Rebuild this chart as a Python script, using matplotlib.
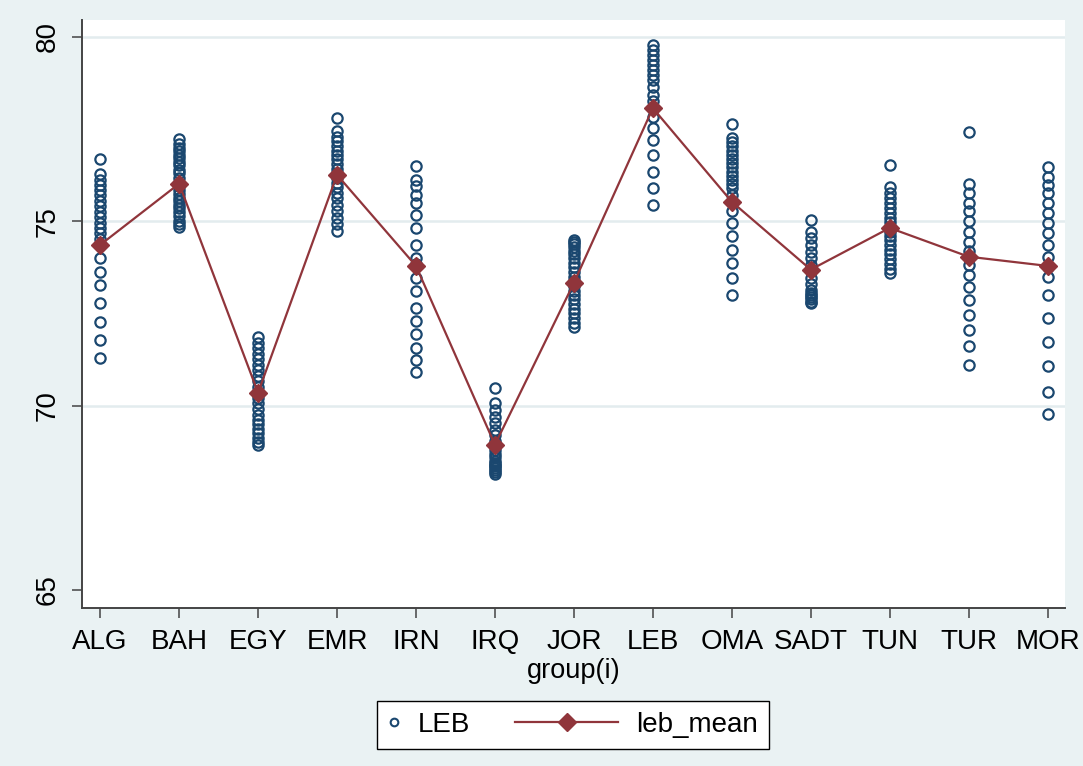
import matplotlib
matplotlib.use("Agg")
import matplotlib.pyplot as plt
from matplotlib.lines import Line2D
from matplotlib.legend_handler import HandlerLine2D

plt.rcParams['font.family'] = ['Liberation Sans', 'DejaVu Sans']

# ---------------- data ----------------
groups = ["ALG", "BAH", "EGY", "EMR", "IRN", "IRQ", "JOR", "LEB", "OMA", "SADT", "TUN", "TUR", "MOR"]

leb_ALG = [76.68, 76.28, 76.12, 75.99, 75.85, 75.71, 75.56, 75.42, 75.26, 75.11, 74.95, 74.81,
           74.68, 74.51, 74.36, 74.0, 73.63, 73.27, 72.78, 72.28, 71.78, 71.29]
leb_BAH = [77.22, 77.1, 77.0, 76.92, 76.8, 76.71, 76.6, 76.52, 76.4, 76.3, 76.18, 76.05,
           75.95, 75.84, 75.75, 75.63, 75.55, 75.45, 75.36, 75.25, 75.14, 75.02, 74.93, 74.85]
leb_EGY = [71.85, 71.7, 71.56, 71.4, 71.26, 71.1, 70.96, 70.8, 70.66, 70.5, 70.36, 70.2,
           70.06, 69.9, 69.76, 69.62, 69.5, 69.38, 69.25, 69.12, 69.01, 68.93]
leb_EMR = [77.8, 77.45, 77.3, 77.18, 77.05, 76.92, 76.8, 76.68, 76.55, 76.42, 76.3, 76.18,
           76.05, 75.92, 75.78, 75.62, 75.45, 75.28, 75.1, 74.92, 74.75]
leb_IRN = [76.49, 76.13, 75.95, 75.72, 75.5, 75.18, 74.82, 74.37, 74.0, 73.83, 73.47, 73.11,
           72.66, 72.3, 71.94, 71.56, 71.25, 70.9]
leb_IRQ = [70.47, 70.07, 69.88, 69.7, 69.52, 69.34, 69.2, 69.05, 68.92, 68.8, 68.7, 68.6,
           68.5, 68.45, 68.4, 68.35, 68.3, 68.25, 68.2, 68.15]
leb_JOR = [74.5, 74.45, 74.38, 74.3, 74.2, 74.1, 74.0, 73.88, 73.75, 73.62, 73.5, 73.38,
           73.25, 73.12, 73.0, 72.88, 72.75, 72.62, 72.5, 72.38, 72.25, 72.12]
leb_LEB = [79.78, 79.65, 79.51, 79.38, 79.24, 79.11, 78.97, 78.83, 78.65, 78.43, 78.25,
           78.05, 77.84, 77.52, 77.21, 76.8, 76.35, 75.9, 75.44]
leb_OMA = [77.63, 77.25, 77.14, 77.03, 76.9, 76.8, 76.7, 76.58, 76.47, 76.35, 76.24, 76.12,
           76.0, 75.9, 75.7, 75.54, 75.27, 74.95, 74.59, 74.23, 73.87, 73.46, 73.01]
leb_SADT = [75.04, 74.72, 74.54, 74.36, 74.18, 74.0, 73.82, 73.64, 73.46, 73.3, 73.15,
            73.05, 73.0, 72.95, 72.88, 72.82, 72.78]
leb_TUN = [76.53, 75.94, 75.76, 75.63, 75.5, 75.36, 75.22, 75.1, 74.98, 74.85, 74.72, 74.6,
           74.48, 74.35, 74.22, 74.1, 73.98, 73.85, 73.72, 73.6]
leb_TUR = [77.41, 76.02, 75.76, 75.51, 75.27, 75.0, 74.72, 74.45, 74.2, 74.05, 73.82, 73.55,
           73.23, 72.87, 72.47, 72.06, 71.61, 71.11]
leb_MOR = [76.48, 76.21, 75.99, 75.76, 75.49, 75.22, 74.95, 74.68, 74.36, 74.04, 73.77,
           73.5, 73.0, 72.37, 71.74, 71.08, 70.38, 69.77]

leb_values = [leb_ALG, leb_BAH, leb_EGY, leb_EMR, leb_IRN, leb_IRQ, leb_JOR, leb_LEB,
              leb_OMA, leb_SADT, leb_TUN, leb_TUR, leb_MOR]

leb_mean = [74.36, 76.02, 70.35, 76.26, 73.79, 68.94, 73.33, 78.07, 75.53, 73.69, 74.82, 74.04, 73.79]

yticks = [65, 70, 75, 80]

# ---------------- style ----------------
NAVY = "#1a476f"
MAROON = "#90353b"
BG = "#eaf2f3"
GRID = "#e3ecee"
AXC = "#444444"
FS = 20

W, H = 1083, 766
fig = plt.figure(figsize=(W / 100, H / 100), dpi=100)
fig.patch.set_facecolor(BG)

left, right, top, bottom = 82, 1065, 20, 607.7
ax = fig.add_axes([left / W, (H - bottom) / H, (right - left) / W, (bottom - top) / H])
ax.set_facecolor("white")

# scatter of LEB
for g, vals in zip(groups, leb_values):
    ax.plot([g] * len(vals), vals, ls="none", marker="o", mfc="none", mec=NAVY,
            ms=7.4, mew=1.6, zorder=3)

# mean line
ax.plot(groups, leb_mean, color=MAROON, lw=1.6, marker="D", ms=9.5, mfc=MAROON,
        mec=MAROON, zorder=4)

ax.set_xlim(-0.23, 12.22)
ax.set_ylim(64.52, 80.46)
ax.set_yticks(yticks)
ax.set_yticklabels([str(t) for t in yticks])

ax.grid(axis="y", color=GRID, lw=1.8, zorder=0)
ax.set_axisbelow(True)
ax.get_ygridlines()[0].set_visible(False)

for s in ["top", "right"]:
    ax.spines[s].set_visible(False)
for s in ["left", "bottom"]:
    ax.spines[s].set_color(AXC)
    ax.spines[s].set_linewidth(1.4)

ax.tick_params(axis="both", direction="out", length=7.5, width=1.1, color=AXC,
               labelsize=FS, labelcolor="black")
ax.tick_params(axis="x", pad=8)
ax.tick_params(axis="y", pad=8, labelrotation=90)
for lab in ax.get_yticklabels():
    lab.set_va("center")

ax.set_xlabel("group(i)", fontsize=19.5, labelpad=2)


# ---------------- legend ----------------
class HandlerLongLine(HandlerLine2D):
    def __init__(self, length_pt, **kw):
        super().__init__(**kw)
        self.length_pt = length_pt

    def create_artists(self, legend, orig_handle, xdescent, ydescent, width, height,
                       fontsize, trans):
        y = height / 2 - ydescent
        x1 = width - xdescent
        x0 = x1 - self.length_pt
        ln = Line2D([x0, x1], [y, y], color=MAROON, lw=1.6)
        mk = Line2D([(x0 + x1) / 2], [y], ls="none", marker="D", ms=9.5, mfc=MAROON, mec=MAROON)
        ln.set_transform(trans)
        mk.set_transform(trans)
        return [ln, mk]


h_leb = Line2D([], [], ls="none", marker="o", mfc="none", mec=NAVY, ms=5.5, mew=1.5)
h_mean = Line2D([], [], color=MAROON, lw=1.6, marker="D", ms=9.5, mfc=MAROON, mec=MAROON)

leg = fig.legend([h_leb, h_mean], ["LEB", "leb_mean"], loc="center",
                 bbox_to_anchor=(0.529, 0.054), ncol=2, fontsize=FS,
                 frameon=True, fancybox=False, shadow=False, framealpha=1,
                 edgecolor="black", facecolor="white", handlelength=0.42,
                 handletextpad=0.65, columnspacing=4.9, borderpad=0.4,
                 numpoints=1, handler_map={h_mean: HandlerLongLine(74.0)})
leg.get_frame().set_linewidth(1.0)

fig.savefig("out.png", dpi=100, facecolor=fig.get_facecolor())
